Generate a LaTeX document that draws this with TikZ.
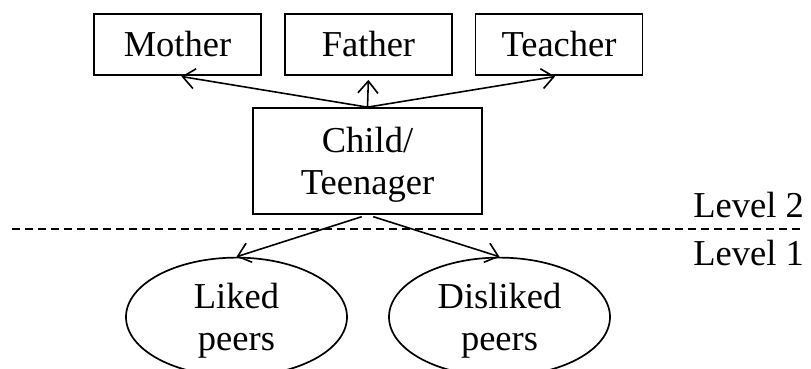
\documentclass[tikz,border=0pt]{standalone}
\usepackage{fontspec}
\setmainfont{Liberation Serif}
\usetikzlibrary{shapes.geometric,arrows.meta}
\newcommand\twolines[2]{\raisebox{0pt}[33pt][51pt]{\begin{tabular}[t]{@{}c@{}}#1\\#2\end{tabular}}}
\begin{document}
\begin{tikzpicture}[x=1pt,y=-1pt,
  every node/.style={font=\fontsize{36.5}{42}\selectfont, inner sep=0pt},
  boxnode/.style={draw, line width=1.7pt, minimum width=167pt, minimum height=61pt},
  childnode/.style={draw, line width=1.7pt, minimum width=229pt, minimum height=106pt},
  peernode/.style={draw, ellipse, line width=1.7pt, minimum width=221pt, minimum height=110pt},
  conn/.style={line width=1.6pt, -{Straight Barb[length=12pt,width=20pt,line width=1.6pt]}},
  levelline/.style={line width=1.6pt, dash pattern=on 8pt off 5pt}
]
\useasboundingbox (0,0) rectangle (811,368);
\node[boxnode] (mother) at (177.5,44.5) {Mother};
\node[boxnode] (father) at (368.5,44.5) {Father};
\node[boxnode] (teacher) at (559,44.5) {Teacher};
\node[childnode] (child) at (367.5,161) {\twolines{Child/}{Teenager}};
\node[peernode] (liked) at (236.5,317) {\twolines{Liked}{peers}};
\node[peernode] (disliked) at (499.5,317) {\twolines{Disliked}{peers}};
\node[anchor=base east] (lvtwo) at (804,217) {Level 2};
\node[anchor=base east] (lvone) at (804,265) {Level 1};
\coordinate (dl) at (12,229);
\coordinate (dr) at (800,229);
\draw[levelline] (dl) -- (dr);
\draw[conn, shorten >=4pt] (child.north) -- (mother.south);
\draw[conn, shorten >=4pt] (child.north) -- (father.south);
\draw[conn, shorten >=4pt] (child.north) -- (teacher.south);
\draw[conn, shorten <=6pt] (child.south) -- (liked.north);
\draw[conn, shorten <=6pt] (child.south) -- (disliked.north);
\end{tikzpicture}
\end{document}
